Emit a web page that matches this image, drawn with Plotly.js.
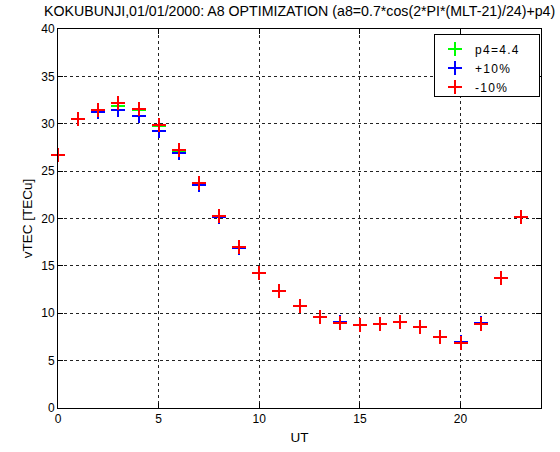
<!DOCTYPE html>
<html>
<head>
<meta charset="utf-8">
<script src="https://cdn.plot.ly/plotly-3.0.1.min.js"></script>
<style>
html,body{margin:0;padding:0;background:#fff;}
#chart{width:560px;height:452px;}
#chart svg path{shape-rendering:crispEdges !important;}
.legendtext{letter-spacing:1.3px;}
</style>
</head>
<body>
<div id="chart"></div>
<script>
const ut = [0,1,2,3,4,5,6,7,8,9,10,11,12,13,14,15,16,17,18,19,20,21,22,23];
const vtecBase = [26.7,30.5,31.4,31.9,31.45,29.8,27.05,23.6,20.25,16.95,14.3,12.3,10.8,9.6,9.05,8.76,8.83,9.1,8.6,7.5,6.9,8.9,13.75,20.2];
const vtecPlus10 = [26.7,30.5,31.2,31.5,30.85,29.2,26.9,23.5,20.2,16.9,14.3,12.3,10.8,9.6,9.1,8.76,8.83,9.1,8.6,7.5,6.95,8.95,13.75,20.2];
const vtecMinus10 = [26.7,30.5,31.5,32.2,31.6,29.9,27.2,23.7,20.3,17.0,14.3,12.3,10.8,9.6,9.0,8.76,8.83,9.1,8.6,7.5,6.9,8.9,13.75,20.2];
const seriesNames = ['p4=4.4','+10%','-10%'];
const seriesColors = ['#00ff00','#0000ff','#ff0000'];
const xTicks = [0,5,10,15,20];
const yTicks = [0,5,10,15,20,25,30,35,40];

const allSeries = [vtecBase, vtecPlus10, vtecMinus10];
const traces = allSeries.map((ys,i)=>({
  x: ut, y: ys, type:'scatter', mode:'markers', name: seriesNames[i], cliponaxis:false,
  marker:{symbol:'cross-thin-open', size:10, color: seriesColors[i], line:{color: seriesColors[i], width:2}}
}));

const fam = 'Liberation Sans, Arial, sans-serif';
const font = {family:fam, size:12, color:'#000'};
const axTitleFont = {family:fam, size:13.5, color:'#000'};
const layout = {
  width:560, height:452,
  margin:{l:58, r:19, t:29, b:44, pad:0},
  paper_bgcolor:'#fff', plot_bgcolor:'#fff',
  font: font,
  showlegend:true,
  title:{text:'KOKUBUNJI,01/01/2000: A8 OPTIMIZATION (a8=0.7*cos(2*PI*(MLT-21)/24)+p4)', font:{family:fam, size:14.2, color:'#000'}, x:0.535, xanchor:'center', y:0.975, yanchor:'middle'},
  xaxis:{range:[0,24], tickvals:xTicks, ticktext:xTicks.map(String), showgrid:true, gridcolor:'#222', griddash:'3px,3px', gridwidth:1,
    showline:true, linecolor:'#000', linewidth:1, mirror:'ticks', ticks:'inside', ticklen:5, tickcolor:'#000',
    zeroline:false, title:{text:'UT', font:axTitleFont, standoff:7}, tickfont:font},
  yaxis:{range:[0,40], tickvals:yTicks, ticktext:yTicks.map(String), showgrid:true, gridcolor:'#222', griddash:'3px,3px', gridwidth:1,
    showline:true, linecolor:'#000', linewidth:1, mirror:'ticks', ticks:'inside', ticklen:5, tickcolor:'#000',
    zeroline:false, title:{text:'vTEC [TECu]', font:axTitleFont, standoff:5}, tickfont:font},
  legend:{x:0.7805, xanchor:'left', y:0.9842, yanchor:'top', bgcolor:'rgba(0,0,0,0)', borderwidth:0,
    font:{family:fam, size:12, color:'#000'}, tracegroupgap:0, itemwidth:30},
  shapes:[{type:'rect', xref:'paper', yref:'paper', x0:0.7805, x1:0.9959, y0:0.8206, y1:0.9842,
    line:{color:'#000', width:1}, fillcolor:'#fff', layer:'above'}]
};
Plotly.newPlot('chart', traces, layout, {staticPlot:true, displayModeBar:false});
</script>
</body>
</html>
